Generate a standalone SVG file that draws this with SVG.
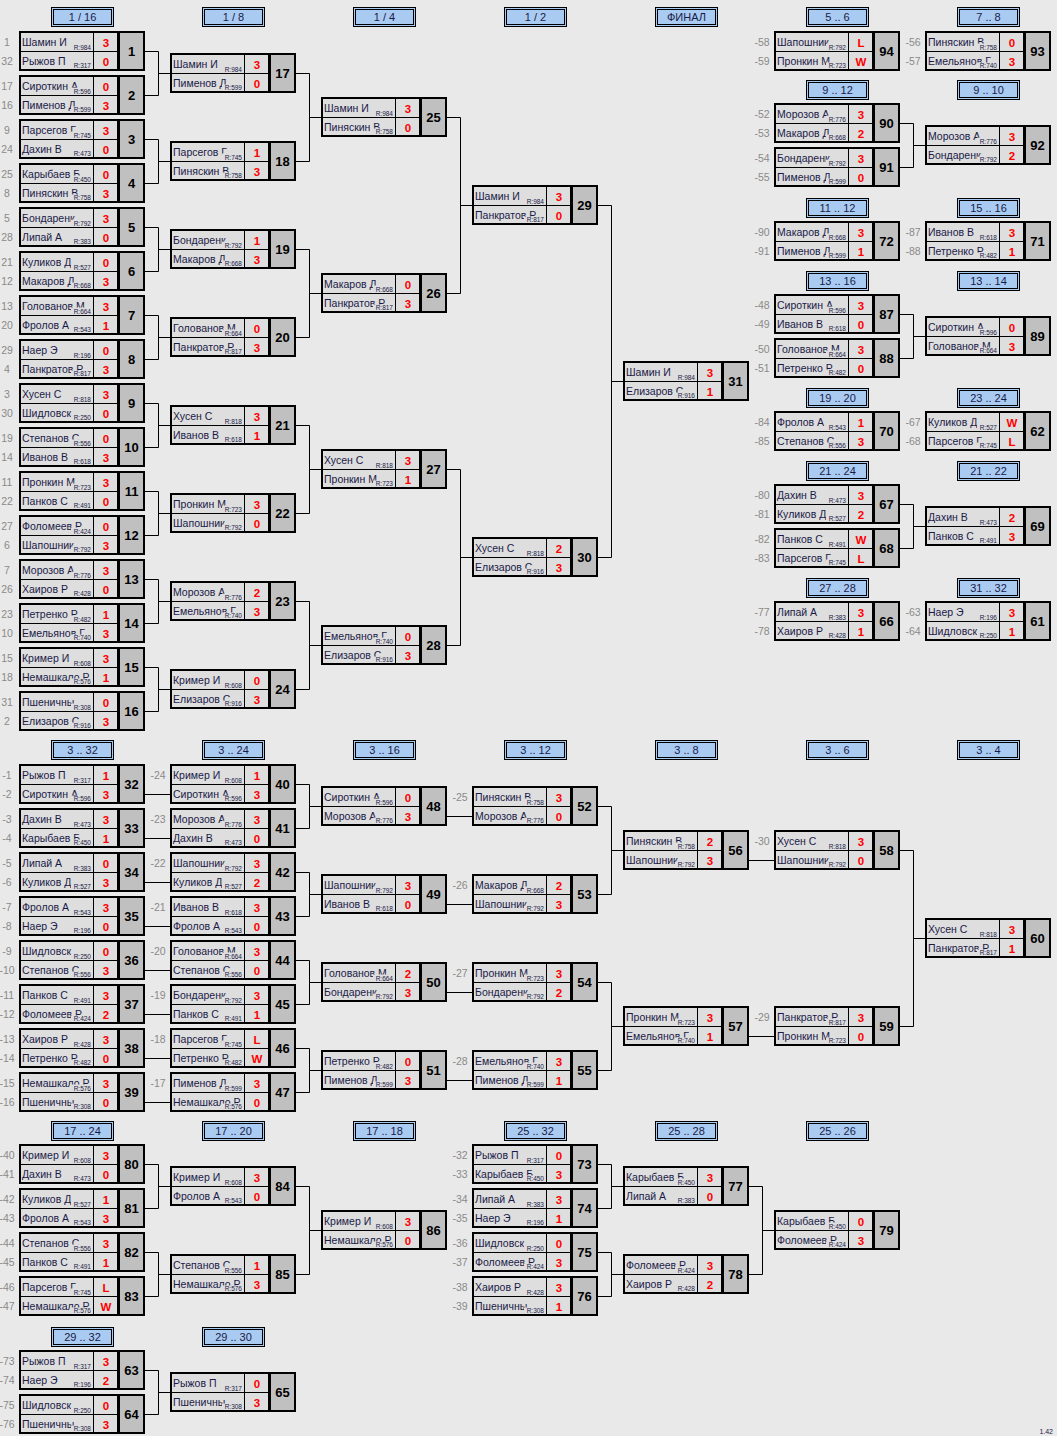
<svg xmlns="http://www.w3.org/2000/svg" width="1057" height="1436" viewBox="0 0 1057 1436">
<style>
text{font-family:"Liberation Sans",Arial,sans-serif}
.n text{font-size:10.5px;fill:#1a1a48}
.r{font-size:6.5px;fill:#1a1a48;text-anchor:end}
.s{font-size:11.5px;font-weight:bold;fill:#f00;text-anchor:middle}
.k{font-size:13px;font-weight:bold;fill:#000;text-anchor:middle}
.d{font-size:10.5px;fill:#8a8a8a;text-anchor:middle}
.ht{font-size:11px;fill:#1a1a48;text-anchor:middle}
.c{fill:none;stroke:#000;stroke-width:1}
.cl{fill:#dedede}
</style>
<defs>
<g id="bx"><rect x="0" y="0" width="126" height="40" fill="#000"/><rect class="cl" x="2" y="2" width="72" height="18"/><rect class="cl" x="2" y="21" width="72" height="17"/><rect class="cl" x="75" y="2" width="23" height="18"/><rect class="cl" x="75" y="21" width="23" height="17"/><rect x="101" y="2" width="23" height="36" fill="#c0c0c0"/></g>
<g id="rb"><rect class="cl" x="52" y="12.5" width="22" height="7.5"/><rect class="cl" x="52" y="31.5" width="22" height="6.5"/></g>
<g id="hb"><rect x="0.5" y="0.5" width="62" height="19" fill="#a9cbf2" stroke="#000"/><rect x="2.5" y="2.5" width="58" height="15" fill="none" stroke="#000"/></g>
<clipPath id="nc"><rect x="2" y="2" width="72" height="36"/></clipPath>
</defs>
<rect width="1057" height="1436" fill="#e9e9e9"/>

<g id="headers">
<g transform="translate(51,7)"><use href="#hb"/><text class="ht" x="31.5" y="14">1 / 16</text></g>
<g transform="translate(202,7)"><use href="#hb"/><text class="ht" x="31.5" y="14">1 / 8</text></g>
<g transform="translate(353,7)"><use href="#hb"/><text class="ht" x="31.5" y="14">1 / 4</text></g>
<g transform="translate(504,7)"><use href="#hb"/><text class="ht" x="31.5" y="14">1 / 2</text></g>
<g transform="translate(655,7)"><use href="#hb"/><text class="ht" x="31.5" y="14">ФИНАЛ</text></g>
<g transform="translate(806,7)"><use href="#hb"/><text class="ht" x="31.5" y="14">5 .. 6</text></g>
<g transform="translate(957,7)"><use href="#hb"/><text class="ht" x="31.5" y="14">7 .. 8</text></g>
<g transform="translate(806,80)"><use href="#hb"/><text class="ht" x="31.5" y="14">9 .. 12</text></g>
<g transform="translate(957,80)"><use href="#hb"/><text class="ht" x="31.5" y="14">9 .. 10</text></g>
<g transform="translate(806,198)"><use href="#hb"/><text class="ht" x="31.5" y="14">11 .. 12</text></g>
<g transform="translate(957,198)"><use href="#hb"/><text class="ht" x="31.5" y="14">15 .. 16</text></g>
<g transform="translate(806,271)"><use href="#hb"/><text class="ht" x="31.5" y="14">13 .. 16</text></g>
<g transform="translate(957,271)"><use href="#hb"/><text class="ht" x="31.5" y="14">13 .. 14</text></g>
<g transform="translate(806,388)"><use href="#hb"/><text class="ht" x="31.5" y="14">19 .. 20</text></g>
<g transform="translate(957,388)"><use href="#hb"/><text class="ht" x="31.5" y="14">23 .. 24</text></g>
<g transform="translate(806,461)"><use href="#hb"/><text class="ht" x="31.5" y="14">21 .. 24</text></g>
<g transform="translate(957,461)"><use href="#hb"/><text class="ht" x="31.5" y="14">21 .. 22</text></g>
<g transform="translate(806,578)"><use href="#hb"/><text class="ht" x="31.5" y="14">27 .. 28</text></g>
<g transform="translate(957,578)"><use href="#hb"/><text class="ht" x="31.5" y="14">31 .. 32</text></g>
<g transform="translate(51,740)"><use href="#hb"/><text class="ht" x="31.5" y="14">3 .. 32</text></g>
<g transform="translate(202,740)"><use href="#hb"/><text class="ht" x="31.5" y="14">3 .. 24</text></g>
<g transform="translate(353,740)"><use href="#hb"/><text class="ht" x="31.5" y="14">3 .. 16</text></g>
<g transform="translate(504,740)"><use href="#hb"/><text class="ht" x="31.5" y="14">3 .. 12</text></g>
<g transform="translate(655,740)"><use href="#hb"/><text class="ht" x="31.5" y="14">3 .. 8</text></g>
<g transform="translate(806,740)"><use href="#hb"/><text class="ht" x="31.5" y="14">3 .. 6</text></g>
<g transform="translate(957,740)"><use href="#hb"/><text class="ht" x="31.5" y="14">3 .. 4</text></g>
<g transform="translate(51,1121)"><use href="#hb"/><text class="ht" x="31.5" y="14">17 .. 24</text></g>
<g transform="translate(202,1121)"><use href="#hb"/><text class="ht" x="31.5" y="14">17 .. 20</text></g>
<g transform="translate(353,1121)"><use href="#hb"/><text class="ht" x="31.5" y="14">17 .. 18</text></g>
<g transform="translate(504,1121)"><use href="#hb"/><text class="ht" x="31.5" y="14">25 .. 32</text></g>
<g transform="translate(655,1121)"><use href="#hb"/><text class="ht" x="31.5" y="14">25 .. 28</text></g>
<g transform="translate(806,1121)"><use href="#hb"/><text class="ht" x="31.5" y="14">25 .. 26</text></g>
<g transform="translate(51,1327)"><use href="#hb"/><text class="ht" x="31.5" y="14">29 .. 32</text></g>
<g transform="translate(202,1327)"><use href="#hb"/><text class="ht" x="31.5" y="14">29 .. 30</text></g>
</g>

<g id="connectors" class="c">
<path d="M145 51.5H158.5V95.5H145M158.5 73.5H170M145 139.5H158.5V183.5H145M158.5 161.5H170M145 227.5H158.5V271.5H145M158.5 249.5H170M145 315.5H158.5V359.5H145M158.5 337.5H170M145 403.5H158.5V447.5H145M158.5 425.5H170M145 491.5H158.5V535.5H145M158.5 513.5H170M145 579.5H158.5V623.5H145M158.5 601.5H170M145 667.5H158.5V711.5H145M158.5 689.5H170"/>
<path d="M296 73.5H309.5V161.5H296M309.5 117.5H321M296 249.5H309.5V337.5H296M309.5 293.5H321M296 425.5H309.5V513.5H296M309.5 469.5H321M296 601.5H309.5V689.5H296M309.5 645.5H321"/>
<path d="M447 117.5H460.5V293.5H447M460.5 205.5H472M447 469.5H460.5V645.5H447M460.5 557.5H472M598 205.5H611.5V557.5H598M611.5 381.5H623"/>
<path d="M900 123.5H913.5V167.5H900M913.5 145.5H925M900 314.5H913.5V358.5H900M913.5 336.5H925M900 504.5H913.5V548.5H900M913.5 526.5H925"/>
<path d="M145 794.5H170M145 838.5H170M145 882.5H170M145 926.5H170M145 970.5H170M145 1014.5H170M145 1058.5H170M145 1102.5H170"/>
<path d="M296 784.5H309.5V828.5H296M309.5 806.5H321M296 872.5H309.5V916.5H296M309.5 894.5H321M296 960.5H309.5V1004.5H296M309.5 982.5H321M296 1048.5H309.5V1092.5H296M309.5 1070.5H321"/>
<path d="M447 816.5H472M447 904.5H472M447 992.5H472M447 1080.5H472"/>
<path d="M598 806.5H611.5V894.5H598M611.5 850.5H623M598 982.5H611.5V1070.5H598M611.5 1026.5H623M749 860.5H774M749 1036.5H774M900 850.5H913.5V1026.5H900M913.5 938.5H925"/>
<path d="M145 1164.5H158.5V1208.5H145M158.5 1186.5H170M145 1252.5H158.5V1296.5H145M158.5 1274.5H170M296 1186.5H309.5V1274.5H296M309.5 1230.5H321"/>
<path d="M598 1164.5H611.5V1208.5H598M611.5 1186.5H623M598 1252.5H611.5V1296.5H598M611.5 1274.5H623M749 1186.5H762.5V1274.5H749M762.5 1230.5H774"/>
<path d="M145 1370.5H158.5V1414.5H145M158.5 1392.5H170"/>
</g>

<g id="m1" transform="translate(19,31)"><use href="#bx"/><g class="n" clip-path="url(#nc)"><text x="3" y="15">Шамин И</text><text x="3" y="34">Рыжов П</text></g><use href="#rb"/><text class="r" x="72" y="18.5">R:984</text><text class="r" x="72" y="37">R:317</text><text class="s" x="87" y="15.5">3</text><text class="s" x="87" y="34.5">0</text><text class="k" x="112.5" y="25">1</text><text class="d" x="-12" y="15">1</text><text class="d" x="-12" y="34">32</text></g>
<g id="m2" transform="translate(19,75)"><use href="#bx"/><g class="n" clip-path="url(#nc)"><text x="3" y="15">Сироткин А</text><text x="3" y="34">Пименов Д</text></g><use href="#rb"/><text class="r" x="72" y="18.5">R:596</text><text class="r" x="72" y="37">R:599</text><text class="s" x="87" y="15.5">0</text><text class="s" x="87" y="34.5">3</text><text class="k" x="112.5" y="25">2</text><text class="d" x="-12" y="15">17</text><text class="d" x="-12" y="34">16</text></g>
<g id="m3" transform="translate(19,119)"><use href="#bx"/><g class="n" clip-path="url(#nc)"><text x="3" y="15">Парсегов Г</text><text x="3" y="34">Дахин В</text></g><use href="#rb"/><text class="r" x="72" y="18.5">R:745</text><text class="r" x="72" y="37">R:473</text><text class="s" x="87" y="15.5">3</text><text class="s" x="87" y="34.5">0</text><text class="k" x="112.5" y="25">3</text><text class="d" x="-12" y="15">9</text><text class="d" x="-12" y="34">24</text></g>
<g id="m4" transform="translate(19,163)"><use href="#bx"/><g class="n" clip-path="url(#nc)"><text x="3" y="15">Карыбаев Б</text><text x="3" y="34">Пиняскин В</text></g><use href="#rb"/><text class="r" x="72" y="18.5">R:450</text><text class="r" x="72" y="37">R:758</text><text class="s" x="87" y="15.5">0</text><text class="s" x="87" y="34.5">3</text><text class="k" x="112.5" y="25">4</text><text class="d" x="-12" y="15">25</text><text class="d" x="-12" y="34">8</text></g>
<g id="m5" transform="translate(19,207)"><use href="#bx"/><g class="n" clip-path="url(#nc)"><text x="3" y="15">Бондаренк</text><text x="3" y="34">Липай А</text></g><use href="#rb"/><text class="r" x="72" y="18.5">R:792</text><text class="r" x="72" y="37">R:383</text><text class="s" x="87" y="15.5">3</text><text class="s" x="87" y="34.5">0</text><text class="k" x="112.5" y="25">5</text><text class="d" x="-12" y="15">5</text><text class="d" x="-12" y="34">28</text></g>
<g id="m6" transform="translate(19,251)"><use href="#bx"/><g class="n" clip-path="url(#nc)"><text x="3" y="15">Куликов Д</text><text x="3" y="34">Макаров Д</text></g><use href="#rb"/><text class="r" x="72" y="18.5">R:527</text><text class="r" x="72" y="37">R:668</text><text class="s" x="87" y="15.5">0</text><text class="s" x="87" y="34.5">3</text><text class="k" x="112.5" y="25">6</text><text class="d" x="-12" y="15">21</text><text class="d" x="-12" y="34">12</text></g>
<g id="m7" transform="translate(19,295)"><use href="#bx"/><g class="n" clip-path="url(#nc)"><text x="3" y="15">Голованов М</text><text x="3" y="34">Фролов А</text></g><use href="#rb"/><text class="r" x="72" y="18.5">R:664</text><text class="r" x="72" y="37">R:543</text><text class="s" x="87" y="15.5">3</text><text class="s" x="87" y="34.5">1</text><text class="k" x="112.5" y="25">7</text><text class="d" x="-12" y="15">13</text><text class="d" x="-12" y="34">20</text></g>
<g id="m8" transform="translate(19,339)"><use href="#bx"/><g class="n" clip-path="url(#nc)"><text x="3" y="15">Наер Э</text><text x="3" y="34">Панкратов Р</text></g><use href="#rb"/><text class="r" x="72" y="18.5">R:196</text><text class="r" x="72" y="37">R:817</text><text class="s" x="87" y="15.5">0</text><text class="s" x="87" y="34.5">3</text><text class="k" x="112.5" y="25">8</text><text class="d" x="-12" y="15">29</text><text class="d" x="-12" y="34">4</text></g>
<g id="m9" transform="translate(19,383)"><use href="#bx"/><g class="n" clip-path="url(#nc)"><text x="3" y="15">Хусен С</text><text x="3" y="34">Шидловск</text></g><use href="#rb"/><text class="r" x="72" y="18.5">R:818</text><text class="r" x="72" y="37">R:250</text><text class="s" x="87" y="15.5">3</text><text class="s" x="87" y="34.5">0</text><text class="k" x="112.5" y="25">9</text><text class="d" x="-12" y="15">3</text><text class="d" x="-12" y="34">30</text></g>
<g id="m10" transform="translate(19,427)"><use href="#bx"/><g class="n" clip-path="url(#nc)"><text x="3" y="15">Степанов С</text><text x="3" y="34">Иванов В</text></g><use href="#rb"/><text class="r" x="72" y="18.5">R:556</text><text class="r" x="72" y="37">R:618</text><text class="s" x="87" y="15.5">0</text><text class="s" x="87" y="34.5">3</text><text class="k" x="112.5" y="25">10</text><text class="d" x="-12" y="15">19</text><text class="d" x="-12" y="34">14</text></g>
<g id="m11" transform="translate(19,471)"><use href="#bx"/><g class="n" clip-path="url(#nc)"><text x="3" y="15">Пронкин М</text><text x="3" y="34">Панков С</text></g><use href="#rb"/><text class="r" x="72" y="18.5">R:723</text><text class="r" x="72" y="37">R:491</text><text class="s" x="87" y="15.5">3</text><text class="s" x="87" y="34.5">0</text><text class="k" x="112.5" y="25">11</text><text class="d" x="-12" y="15">11</text><text class="d" x="-12" y="34">22</text></g>
<g id="m12" transform="translate(19,515)"><use href="#bx"/><g class="n" clip-path="url(#nc)"><text x="3" y="15">Фоломеев Р</text><text x="3" y="34">Шапошник</text></g><use href="#rb"/><text class="r" x="72" y="18.5">R:424</text><text class="r" x="72" y="37">R:792</text><text class="s" x="87" y="15.5">0</text><text class="s" x="87" y="34.5">3</text><text class="k" x="112.5" y="25">12</text><text class="d" x="-12" y="15">27</text><text class="d" x="-12" y="34">6</text></g>
<g id="m13" transform="translate(19,559)"><use href="#bx"/><g class="n" clip-path="url(#nc)"><text x="3" y="15">Морозов А</text><text x="3" y="34">Хаиров Р</text></g><use href="#rb"/><text class="r" x="72" y="18.5">R:776</text><text class="r" x="72" y="37">R:428</text><text class="s" x="87" y="15.5">3</text><text class="s" x="87" y="34.5">0</text><text class="k" x="112.5" y="25">13</text><text class="d" x="-12" y="15">7</text><text class="d" x="-12" y="34">26</text></g>
<g id="m14" transform="translate(19,603)"><use href="#bx"/><g class="n" clip-path="url(#nc)"><text x="3" y="15">Петренко Р</text><text x="3" y="34">Емельянов Г</text></g><use href="#rb"/><text class="r" x="72" y="18.5">R:482</text><text class="r" x="72" y="37">R:740</text><text class="s" x="87" y="15.5">1</text><text class="s" x="87" y="34.5">3</text><text class="k" x="112.5" y="25">14</text><text class="d" x="-12" y="15">23</text><text class="d" x="-12" y="34">10</text></g>
<g id="m15" transform="translate(19,647)"><use href="#bx"/><g class="n" clip-path="url(#nc)"><text x="3" y="15">Кример И</text><text x="3" y="34">Немашкало Р</text></g><use href="#rb"/><text class="r" x="72" y="18.5">R:608</text><text class="r" x="72" y="37">R:576</text><text class="s" x="87" y="15.5">3</text><text class="s" x="87" y="34.5">1</text><text class="k" x="112.5" y="25">15</text><text class="d" x="-12" y="15">15</text><text class="d" x="-12" y="34">18</text></g>
<g id="m16" transform="translate(19,691)"><use href="#bx"/><g class="n" clip-path="url(#nc)"><text x="3" y="15">Пшеничны</text><text x="3" y="34">Елизаров С</text></g><use href="#rb"/><text class="r" x="72" y="18.5">R:308</text><text class="r" x="72" y="37">R:916</text><text class="s" x="87" y="15.5">0</text><text class="s" x="87" y="34.5">3</text><text class="k" x="112.5" y="25">16</text><text class="d" x="-12" y="15">31</text><text class="d" x="-12" y="34">2</text></g>

<g id="m17" transform="translate(170,53)"><use href="#bx"/><g class="n" clip-path="url(#nc)"><text x="3" y="15">Шамин И</text><text x="3" y="34">Пименов Д</text></g><use href="#rb"/><text class="r" x="72" y="18.5">R:984</text><text class="r" x="72" y="37">R:599</text><text class="s" x="87" y="15.5">3</text><text class="s" x="87" y="34.5">0</text><text class="k" x="112.5" y="25">17</text></g>
<g id="m18" transform="translate(170,141)"><use href="#bx"/><g class="n" clip-path="url(#nc)"><text x="3" y="15">Парсегов Г</text><text x="3" y="34">Пиняскин В</text></g><use href="#rb"/><text class="r" x="72" y="18.5">R:745</text><text class="r" x="72" y="37">R:758</text><text class="s" x="87" y="15.5">1</text><text class="s" x="87" y="34.5">3</text><text class="k" x="112.5" y="25">18</text></g>
<g id="m19" transform="translate(170,229)"><use href="#bx"/><g class="n" clip-path="url(#nc)"><text x="3" y="15">Бондаренк</text><text x="3" y="34">Макаров Д</text></g><use href="#rb"/><text class="r" x="72" y="18.5">R:792</text><text class="r" x="72" y="37">R:668</text><text class="s" x="87" y="15.5">1</text><text class="s" x="87" y="34.5">3</text><text class="k" x="112.5" y="25">19</text></g>
<g id="m20" transform="translate(170,317)"><use href="#bx"/><g class="n" clip-path="url(#nc)"><text x="3" y="15">Голованов М</text><text x="3" y="34">Панкратов Р</text></g><use href="#rb"/><text class="r" x="72" y="18.5">R:664</text><text class="r" x="72" y="37">R:817</text><text class="s" x="87" y="15.5">0</text><text class="s" x="87" y="34.5">3</text><text class="k" x="112.5" y="25">20</text></g>
<g id="m21" transform="translate(170,405)"><use href="#bx"/><g class="n" clip-path="url(#nc)"><text x="3" y="15">Хусен С</text><text x="3" y="34">Иванов В</text></g><use href="#rb"/><text class="r" x="72" y="18.5">R:818</text><text class="r" x="72" y="37">R:618</text><text class="s" x="87" y="15.5">3</text><text class="s" x="87" y="34.5">1</text><text class="k" x="112.5" y="25">21</text></g>
<g id="m22" transform="translate(170,493)"><use href="#bx"/><g class="n" clip-path="url(#nc)"><text x="3" y="15">Пронкин М</text><text x="3" y="34">Шапошник</text></g><use href="#rb"/><text class="r" x="72" y="18.5">R:723</text><text class="r" x="72" y="37">R:792</text><text class="s" x="87" y="15.5">3</text><text class="s" x="87" y="34.5">0</text><text class="k" x="112.5" y="25">22</text></g>
<g id="m23" transform="translate(170,581)"><use href="#bx"/><g class="n" clip-path="url(#nc)"><text x="3" y="15">Морозов А</text><text x="3" y="34">Емельянов Г</text></g><use href="#rb"/><text class="r" x="72" y="18.5">R:776</text><text class="r" x="72" y="37">R:740</text><text class="s" x="87" y="15.5">2</text><text class="s" x="87" y="34.5">3</text><text class="k" x="112.5" y="25">23</text></g>
<g id="m24" transform="translate(170,669)"><use href="#bx"/><g class="n" clip-path="url(#nc)"><text x="3" y="15">Кример И</text><text x="3" y="34">Елизаров С</text></g><use href="#rb"/><text class="r" x="72" y="18.5">R:608</text><text class="r" x="72" y="37">R:916</text><text class="s" x="87" y="15.5">0</text><text class="s" x="87" y="34.5">3</text><text class="k" x="112.5" y="25">24</text></g>

<g id="m25" transform="translate(321,97)"><use href="#bx"/><g class="n" clip-path="url(#nc)"><text x="3" y="15">Шамин И</text><text x="3" y="34">Пиняскин В</text></g><use href="#rb"/><text class="r" x="72" y="18.5">R:984</text><text class="r" x="72" y="37">R:758</text><text class="s" x="87" y="15.5">3</text><text class="s" x="87" y="34.5">0</text><text class="k" x="112.5" y="25">25</text></g>
<g id="m26" transform="translate(321,273)"><use href="#bx"/><g class="n" clip-path="url(#nc)"><text x="3" y="15">Макаров Д</text><text x="3" y="34">Панкратов Р</text></g><use href="#rb"/><text class="r" x="72" y="18.5">R:668</text><text class="r" x="72" y="37">R:817</text><text class="s" x="87" y="15.5">0</text><text class="s" x="87" y="34.5">3</text><text class="k" x="112.5" y="25">26</text></g>
<g id="m27" transform="translate(321,449)"><use href="#bx"/><g class="n" clip-path="url(#nc)"><text x="3" y="15">Хусен С</text><text x="3" y="34">Пронкин М</text></g><use href="#rb"/><text class="r" x="72" y="18.5">R:818</text><text class="r" x="72" y="37">R:723</text><text class="s" x="87" y="15.5">3</text><text class="s" x="87" y="34.5">1</text><text class="k" x="112.5" y="25">27</text></g>
<g id="m28" transform="translate(321,625)"><use href="#bx"/><g class="n" clip-path="url(#nc)"><text x="3" y="15">Емельянов Г</text><text x="3" y="34">Елизаров С</text></g><use href="#rb"/><text class="r" x="72" y="18.5">R:740</text><text class="r" x="72" y="37">R:916</text><text class="s" x="87" y="15.5">0</text><text class="s" x="87" y="34.5">3</text><text class="k" x="112.5" y="25">28</text></g>
<g id="m29" transform="translate(472,185)"><use href="#bx"/><g class="n" clip-path="url(#nc)"><text x="3" y="15">Шамин И</text><text x="3" y="34">Панкратов Р</text></g><use href="#rb"/><text class="r" x="72" y="18.5">R:984</text><text class="r" x="72" y="37">R:817</text><text class="s" x="87" y="15.5">3</text><text class="s" x="87" y="34.5">0</text><text class="k" x="112.5" y="25">29</text></g>
<g id="m30" transform="translate(472,537)"><use href="#bx"/><g class="n" clip-path="url(#nc)"><text x="3" y="15">Хусен С</text><text x="3" y="34">Елизаров С</text></g><use href="#rb"/><text class="r" x="72" y="18.5">R:818</text><text class="r" x="72" y="37">R:916</text><text class="s" x="87" y="15.5">2</text><text class="s" x="87" y="34.5">3</text><text class="k" x="112.5" y="25">30</text></g>
<g id="m31" transform="translate(623,361)"><use href="#bx"/><g class="n" clip-path="url(#nc)"><text x="3" y="15">Шамин И</text><text x="3" y="34">Елизаров С</text></g><use href="#rb"/><text class="r" x="72" y="18.5">R:984</text><text class="r" x="72" y="37">R:916</text><text class="s" x="87" y="15.5">3</text><text class="s" x="87" y="34.5">1</text><text class="k" x="112.5" y="25">31</text></g>

<g id="m94" transform="translate(774,31)"><use href="#bx"/><g class="n" clip-path="url(#nc)"><text x="3" y="15">Шапошник</text><text x="3" y="34">Пронкин М</text></g><use href="#rb"/><text class="r" x="72" y="18.5">R:792</text><text class="r" x="72" y="37">R:723</text><text class="s" x="87" y="15.5">L</text><text class="s" x="87" y="34.5">W</text><text class="k" x="112.5" y="25">94</text><text class="d" x="-12" y="15">-58</text><text class="d" x="-12" y="34">-59</text></g>
<g id="m90" transform="translate(774,103)"><use href="#bx"/><g class="n" clip-path="url(#nc)"><text x="3" y="15">Морозов А</text><text x="3" y="34">Макаров Д</text></g><use href="#rb"/><text class="r" x="72" y="18.5">R:776</text><text class="r" x="72" y="37">R:668</text><text class="s" x="87" y="15.5">3</text><text class="s" x="87" y="34.5">2</text><text class="k" x="112.5" y="25">90</text><text class="d" x="-12" y="15">-52</text><text class="d" x="-12" y="34">-53</text></g>
<g id="m91" transform="translate(774,147)"><use href="#bx"/><g class="n" clip-path="url(#nc)"><text x="3" y="15">Бондаренк</text><text x="3" y="34">Пименов Д</text></g><use href="#rb"/><text class="r" x="72" y="18.5">R:792</text><text class="r" x="72" y="37">R:599</text><text class="s" x="87" y="15.5">3</text><text class="s" x="87" y="34.5">0</text><text class="k" x="112.5" y="25">91</text><text class="d" x="-12" y="15">-54</text><text class="d" x="-12" y="34">-55</text></g>
<g id="m72" transform="translate(774,221)"><use href="#bx"/><g class="n" clip-path="url(#nc)"><text x="3" y="15">Макаров Д</text><text x="3" y="34">Пименов Д</text></g><use href="#rb"/><text class="r" x="72" y="18.5">R:668</text><text class="r" x="72" y="37">R:599</text><text class="s" x="87" y="15.5">3</text><text class="s" x="87" y="34.5">1</text><text class="k" x="112.5" y="25">72</text><text class="d" x="-12" y="15">-90</text><text class="d" x="-12" y="34">-91</text></g>
<g id="m87" transform="translate(774,294)"><use href="#bx"/><g class="n" clip-path="url(#nc)"><text x="3" y="15">Сироткин А</text><text x="3" y="34">Иванов В</text></g><use href="#rb"/><text class="r" x="72" y="18.5">R:596</text><text class="r" x="72" y="37">R:618</text><text class="s" x="87" y="15.5">3</text><text class="s" x="87" y="34.5">0</text><text class="k" x="112.5" y="25">87</text><text class="d" x="-12" y="15">-48</text><text class="d" x="-12" y="34">-49</text></g>
<g id="m88" transform="translate(774,338)"><use href="#bx"/><g class="n" clip-path="url(#nc)"><text x="3" y="15">Голованов М</text><text x="3" y="34">Петренко Р</text></g><use href="#rb"/><text class="r" x="72" y="18.5">R:664</text><text class="r" x="72" y="37">R:482</text><text class="s" x="87" y="15.5">3</text><text class="s" x="87" y="34.5">0</text><text class="k" x="112.5" y="25">88</text><text class="d" x="-12" y="15">-50</text><text class="d" x="-12" y="34">-51</text></g>
<g id="m70" transform="translate(774,411)"><use href="#bx"/><g class="n" clip-path="url(#nc)"><text x="3" y="15">Фролов А</text><text x="3" y="34">Степанов С</text></g><use href="#rb"/><text class="r" x="72" y="18.5">R:543</text><text class="r" x="72" y="37">R:556</text><text class="s" x="87" y="15.5">1</text><text class="s" x="87" y="34.5">3</text><text class="k" x="112.5" y="25">70</text><text class="d" x="-12" y="15">-84</text><text class="d" x="-12" y="34">-85</text></g>
<g id="m67" transform="translate(774,484)"><use href="#bx"/><g class="n" clip-path="url(#nc)"><text x="3" y="15">Дахин В</text><text x="3" y="34">Куликов Д</text></g><use href="#rb"/><text class="r" x="72" y="18.5">R:473</text><text class="r" x="72" y="37">R:527</text><text class="s" x="87" y="15.5">3</text><text class="s" x="87" y="34.5">2</text><text class="k" x="112.5" y="25">67</text><text class="d" x="-12" y="15">-80</text><text class="d" x="-12" y="34">-81</text></g>
<g id="m68" transform="translate(774,528)"><use href="#bx"/><g class="n" clip-path="url(#nc)"><text x="3" y="15">Панков С</text><text x="3" y="34">Парсегов Г</text></g><use href="#rb"/><text class="r" x="72" y="18.5">R:491</text><text class="r" x="72" y="37">R:745</text><text class="s" x="87" y="15.5">W</text><text class="s" x="87" y="34.5">L</text><text class="k" x="112.5" y="25">68</text><text class="d" x="-12" y="15">-82</text><text class="d" x="-12" y="34">-83</text></g>
<g id="m66" transform="translate(774,601)"><use href="#bx"/><g class="n" clip-path="url(#nc)"><text x="3" y="15">Липай А</text><text x="3" y="34">Хаиров Р</text></g><use href="#rb"/><text class="r" x="72" y="18.5">R:383</text><text class="r" x="72" y="37">R:428</text><text class="s" x="87" y="15.5">3</text><text class="s" x="87" y="34.5">1</text><text class="k" x="112.5" y="25">66</text><text class="d" x="-12" y="15">-77</text><text class="d" x="-12" y="34">-78</text></g>

<g id="m93" transform="translate(925,31)"><use href="#bx"/><g class="n" clip-path="url(#nc)"><text x="3" y="15">Пиняскин В</text><text x="3" y="34">Емельянов Г</text></g><use href="#rb"/><text class="r" x="72" y="18.5">R:758</text><text class="r" x="72" y="37">R:740</text><text class="s" x="87" y="15.5">0</text><text class="s" x="87" y="34.5">3</text><text class="k" x="112.5" y="25">93</text><text class="d" x="-12" y="15">-56</text><text class="d" x="-12" y="34">-57</text></g>
<g id="m92" transform="translate(925,125)"><use href="#bx"/><g class="n" clip-path="url(#nc)"><text x="3" y="15">Морозов А</text><text x="3" y="34">Бондаренк</text></g><use href="#rb"/><text class="r" x="72" y="18.5">R:776</text><text class="r" x="72" y="37">R:792</text><text class="s" x="87" y="15.5">3</text><text class="s" x="87" y="34.5">2</text><text class="k" x="112.5" y="25">92</text></g>
<g id="m71" transform="translate(925,221)"><use href="#bx"/><g class="n" clip-path="url(#nc)"><text x="3" y="15">Иванов В</text><text x="3" y="34">Петренко Р</text></g><use href="#rb"/><text class="r" x="72" y="18.5">R:618</text><text class="r" x="72" y="37">R:482</text><text class="s" x="87" y="15.5">3</text><text class="s" x="87" y="34.5">1</text><text class="k" x="112.5" y="25">71</text><text class="d" x="-12" y="15">-87</text><text class="d" x="-12" y="34">-88</text></g>
<g id="m89" transform="translate(925,316)"><use href="#bx"/><g class="n" clip-path="url(#nc)"><text x="3" y="15">Сироткин А</text><text x="3" y="34">Голованов М</text></g><use href="#rb"/><text class="r" x="72" y="18.5">R:596</text><text class="r" x="72" y="37">R:664</text><text class="s" x="87" y="15.5">0</text><text class="s" x="87" y="34.5">3</text><text class="k" x="112.5" y="25">89</text></g>
<g id="m62" transform="translate(925,411)"><use href="#bx"/><g class="n" clip-path="url(#nc)"><text x="3" y="15">Куликов Д</text><text x="3" y="34">Парсегов Г</text></g><use href="#rb"/><text class="r" x="72" y="18.5">R:527</text><text class="r" x="72" y="37">R:745</text><text class="s" x="87" y="15.5">W</text><text class="s" x="87" y="34.5">L</text><text class="k" x="112.5" y="25">62</text><text class="d" x="-12" y="15">-67</text><text class="d" x="-12" y="34">-68</text></g>
<g id="m69" transform="translate(925,506)"><use href="#bx"/><g class="n" clip-path="url(#nc)"><text x="3" y="15">Дахин В</text><text x="3" y="34">Панков С</text></g><use href="#rb"/><text class="r" x="72" y="18.5">R:473</text><text class="r" x="72" y="37">R:491</text><text class="s" x="87" y="15.5">2</text><text class="s" x="87" y="34.5">3</text><text class="k" x="112.5" y="25">69</text></g>
<g id="m61" transform="translate(925,601)"><use href="#bx"/><g class="n" clip-path="url(#nc)"><text x="3" y="15">Наер Э</text><text x="3" y="34">Шидловск</text></g><use href="#rb"/><text class="r" x="72" y="18.5">R:196</text><text class="r" x="72" y="37">R:250</text><text class="s" x="87" y="15.5">3</text><text class="s" x="87" y="34.5">1</text><text class="k" x="112.5" y="25">61</text><text class="d" x="-12" y="15">-63</text><text class="d" x="-12" y="34">-64</text></g>

<g id="m32" transform="translate(19,764)"><use href="#bx"/><g class="n" clip-path="url(#nc)"><text x="3" y="15">Рыжов П</text><text x="3" y="34">Сироткин А</text></g><use href="#rb"/><text class="r" x="72" y="18.5">R:317</text><text class="r" x="72" y="37">R:596</text><text class="s" x="87" y="15.5">1</text><text class="s" x="87" y="34.5">3</text><text class="k" x="112.5" y="25">32</text><text class="d" x="-12" y="15">-1</text><text class="d" x="-12" y="34">-2</text></g>
<g id="m33" transform="translate(19,808)"><use href="#bx"/><g class="n" clip-path="url(#nc)"><text x="3" y="15">Дахин В</text><text x="3" y="34">Карыбаев Б</text></g><use href="#rb"/><text class="r" x="72" y="18.5">R:473</text><text class="r" x="72" y="37">R:450</text><text class="s" x="87" y="15.5">3</text><text class="s" x="87" y="34.5">1</text><text class="k" x="112.5" y="25">33</text><text class="d" x="-12" y="15">-3</text><text class="d" x="-12" y="34">-4</text></g>
<g id="m34" transform="translate(19,852)"><use href="#bx"/><g class="n" clip-path="url(#nc)"><text x="3" y="15">Липай А</text><text x="3" y="34">Куликов Д</text></g><use href="#rb"/><text class="r" x="72" y="18.5">R:383</text><text class="r" x="72" y="37">R:527</text><text class="s" x="87" y="15.5">0</text><text class="s" x="87" y="34.5">3</text><text class="k" x="112.5" y="25">34</text><text class="d" x="-12" y="15">-5</text><text class="d" x="-12" y="34">-6</text></g>
<g id="m35" transform="translate(19,896)"><use href="#bx"/><g class="n" clip-path="url(#nc)"><text x="3" y="15">Фролов А</text><text x="3" y="34">Наер Э</text></g><use href="#rb"/><text class="r" x="72" y="18.5">R:543</text><text class="r" x="72" y="37">R:196</text><text class="s" x="87" y="15.5">3</text><text class="s" x="87" y="34.5">0</text><text class="k" x="112.5" y="25">35</text><text class="d" x="-12" y="15">-7</text><text class="d" x="-12" y="34">-8</text></g>
<g id="m36" transform="translate(19,940)"><use href="#bx"/><g class="n" clip-path="url(#nc)"><text x="3" y="15">Шидловск</text><text x="3" y="34">Степанов С</text></g><use href="#rb"/><text class="r" x="72" y="18.5">R:250</text><text class="r" x="72" y="37">R:556</text><text class="s" x="87" y="15.5">0</text><text class="s" x="87" y="34.5">3</text><text class="k" x="112.5" y="25">36</text><text class="d" x="-12" y="15">-9</text><text class="d" x="-12" y="34">-10</text></g>
<g id="m37" transform="translate(19,984)"><use href="#bx"/><g class="n" clip-path="url(#nc)"><text x="3" y="15">Панков С</text><text x="3" y="34">Фоломеев Р</text></g><use href="#rb"/><text class="r" x="72" y="18.5">R:491</text><text class="r" x="72" y="37">R:424</text><text class="s" x="87" y="15.5">3</text><text class="s" x="87" y="34.5">2</text><text class="k" x="112.5" y="25">37</text><text class="d" x="-12" y="15">-11</text><text class="d" x="-12" y="34">-12</text></g>
<g id="m38" transform="translate(19,1028)"><use href="#bx"/><g class="n" clip-path="url(#nc)"><text x="3" y="15">Хаиров Р</text><text x="3" y="34">Петренко Р</text></g><use href="#rb"/><text class="r" x="72" y="18.5">R:428</text><text class="r" x="72" y="37">R:482</text><text class="s" x="87" y="15.5">3</text><text class="s" x="87" y="34.5">0</text><text class="k" x="112.5" y="25">38</text><text class="d" x="-12" y="15">-13</text><text class="d" x="-12" y="34">-14</text></g>
<g id="m39" transform="translate(19,1072)"><use href="#bx"/><g class="n" clip-path="url(#nc)"><text x="3" y="15">Немашкало Р</text><text x="3" y="34">Пшеничны</text></g><use href="#rb"/><text class="r" x="72" y="18.5">R:576</text><text class="r" x="72" y="37">R:308</text><text class="s" x="87" y="15.5">3</text><text class="s" x="87" y="34.5">0</text><text class="k" x="112.5" y="25">39</text><text class="d" x="-12" y="15">-15</text><text class="d" x="-12" y="34">-16</text></g>

<g id="m40" transform="translate(170,764)"><use href="#bx"/><g class="n" clip-path="url(#nc)"><text x="3" y="15">Кример И</text><text x="3" y="34">Сироткин А</text></g><use href="#rb"/><text class="r" x="72" y="18.5">R:608</text><text class="r" x="72" y="37">R:596</text><text class="s" x="87" y="15.5">1</text><text class="s" x="87" y="34.5">3</text><text class="k" x="112.5" y="25">40</text><text class="d" x="-12" y="15">-24</text></g>
<g id="m41" transform="translate(170,808)"><use href="#bx"/><g class="n" clip-path="url(#nc)"><text x="3" y="15">Морозов А</text><text x="3" y="34">Дахин В</text></g><use href="#rb"/><text class="r" x="72" y="18.5">R:776</text><text class="r" x="72" y="37">R:473</text><text class="s" x="87" y="15.5">3</text><text class="s" x="87" y="34.5">0</text><text class="k" x="112.5" y="25">41</text><text class="d" x="-12" y="15">-23</text></g>
<g id="m42" transform="translate(170,852)"><use href="#bx"/><g class="n" clip-path="url(#nc)"><text x="3" y="15">Шапошник</text><text x="3" y="34">Куликов Д</text></g><use href="#rb"/><text class="r" x="72" y="18.5">R:792</text><text class="r" x="72" y="37">R:527</text><text class="s" x="87" y="15.5">3</text><text class="s" x="87" y="34.5">2</text><text class="k" x="112.5" y="25">42</text><text class="d" x="-12" y="15">-22</text></g>
<g id="m43" transform="translate(170,896)"><use href="#bx"/><g class="n" clip-path="url(#nc)"><text x="3" y="15">Иванов В</text><text x="3" y="34">Фролов А</text></g><use href="#rb"/><text class="r" x="72" y="18.5">R:618</text><text class="r" x="72" y="37">R:543</text><text class="s" x="87" y="15.5">3</text><text class="s" x="87" y="34.5">0</text><text class="k" x="112.5" y="25">43</text><text class="d" x="-12" y="15">-21</text></g>
<g id="m44" transform="translate(170,940)"><use href="#bx"/><g class="n" clip-path="url(#nc)"><text x="3" y="15">Голованов М</text><text x="3" y="34">Степанов С</text></g><use href="#rb"/><text class="r" x="72" y="18.5">R:664</text><text class="r" x="72" y="37">R:556</text><text class="s" x="87" y="15.5">3</text><text class="s" x="87" y="34.5">0</text><text class="k" x="112.5" y="25">44</text><text class="d" x="-12" y="15">-20</text></g>
<g id="m45" transform="translate(170,984)"><use href="#bx"/><g class="n" clip-path="url(#nc)"><text x="3" y="15">Бондаренк</text><text x="3" y="34">Панков С</text></g><use href="#rb"/><text class="r" x="72" y="18.5">R:792</text><text class="r" x="72" y="37">R:491</text><text class="s" x="87" y="15.5">3</text><text class="s" x="87" y="34.5">1</text><text class="k" x="112.5" y="25">45</text><text class="d" x="-12" y="15">-19</text></g>
<g id="m46" transform="translate(170,1028)"><use href="#bx"/><g class="n" clip-path="url(#nc)"><text x="3" y="15">Парсегов Г</text><text x="3" y="34">Петренко Р</text></g><use href="#rb"/><text class="r" x="72" y="18.5">R:745</text><text class="r" x="72" y="37">R:482</text><text class="s" x="87" y="15.5">L</text><text class="s" x="87" y="34.5">W</text><text class="k" x="112.5" y="25">46</text><text class="d" x="-12" y="15">-18</text></g>
<g id="m47" transform="translate(170,1072)"><use href="#bx"/><g class="n" clip-path="url(#nc)"><text x="3" y="15">Пименов Д</text><text x="3" y="34">Немашкало Р</text></g><use href="#rb"/><text class="r" x="72" y="18.5">R:599</text><text class="r" x="72" y="37">R:576</text><text class="s" x="87" y="15.5">3</text><text class="s" x="87" y="34.5">0</text><text class="k" x="112.5" y="25">47</text><text class="d" x="-12" y="15">-17</text></g>

<g id="m48" transform="translate(321,786)"><use href="#bx"/><g class="n" clip-path="url(#nc)"><text x="3" y="15">Сироткин А</text><text x="3" y="34">Морозов А</text></g><use href="#rb"/><text class="r" x="72" y="18.5">R:596</text><text class="r" x="72" y="37">R:776</text><text class="s" x="87" y="15.5">0</text><text class="s" x="87" y="34.5">3</text><text class="k" x="112.5" y="25">48</text></g>
<g id="m49" transform="translate(321,874)"><use href="#bx"/><g class="n" clip-path="url(#nc)"><text x="3" y="15">Шапошник</text><text x="3" y="34">Иванов В</text></g><use href="#rb"/><text class="r" x="72" y="18.5">R:792</text><text class="r" x="72" y="37">R:618</text><text class="s" x="87" y="15.5">3</text><text class="s" x="87" y="34.5">0</text><text class="k" x="112.5" y="25">49</text></g>
<g id="m50" transform="translate(321,962)"><use href="#bx"/><g class="n" clip-path="url(#nc)"><text x="3" y="15">Голованов М</text><text x="3" y="34">Бондаренк</text></g><use href="#rb"/><text class="r" x="72" y="18.5">R:664</text><text class="r" x="72" y="37">R:792</text><text class="s" x="87" y="15.5">2</text><text class="s" x="87" y="34.5">3</text><text class="k" x="112.5" y="25">50</text></g>
<g id="m51" transform="translate(321,1050)"><use href="#bx"/><g class="n" clip-path="url(#nc)"><text x="3" y="15">Петренко Р</text><text x="3" y="34">Пименов Д</text></g><use href="#rb"/><text class="r" x="72" y="18.5">R:482</text><text class="r" x="72" y="37">R:599</text><text class="s" x="87" y="15.5">0</text><text class="s" x="87" y="34.5">3</text><text class="k" x="112.5" y="25">51</text></g>

<g id="m52" transform="translate(472,786)"><use href="#bx"/><g class="n" clip-path="url(#nc)"><text x="3" y="15">Пиняскин В</text><text x="3" y="34">Морозов А</text></g><use href="#rb"/><text class="r" x="72" y="18.5">R:758</text><text class="r" x="72" y="37">R:776</text><text class="s" x="87" y="15.5">3</text><text class="s" x="87" y="34.5">0</text><text class="k" x="112.5" y="25">52</text><text class="d" x="-12" y="15">-25</text></g>
<g id="m53" transform="translate(472,874)"><use href="#bx"/><g class="n" clip-path="url(#nc)"><text x="3" y="15">Макаров Д</text><text x="3" y="34">Шапошник</text></g><use href="#rb"/><text class="r" x="72" y="18.5">R:668</text><text class="r" x="72" y="37">R:792</text><text class="s" x="87" y="15.5">2</text><text class="s" x="87" y="34.5">3</text><text class="k" x="112.5" y="25">53</text><text class="d" x="-12" y="15">-26</text></g>
<g id="m54" transform="translate(472,962)"><use href="#bx"/><g class="n" clip-path="url(#nc)"><text x="3" y="15">Пронкин М</text><text x="3" y="34">Бондаренк</text></g><use href="#rb"/><text class="r" x="72" y="18.5">R:723</text><text class="r" x="72" y="37">R:792</text><text class="s" x="87" y="15.5">3</text><text class="s" x="87" y="34.5">2</text><text class="k" x="112.5" y="25">54</text><text class="d" x="-12" y="15">-27</text></g>
<g id="m55" transform="translate(472,1050)"><use href="#bx"/><g class="n" clip-path="url(#nc)"><text x="3" y="15">Емельянов Г</text><text x="3" y="34">Пименов Д</text></g><use href="#rb"/><text class="r" x="72" y="18.5">R:740</text><text class="r" x="72" y="37">R:599</text><text class="s" x="87" y="15.5">3</text><text class="s" x="87" y="34.5">1</text><text class="k" x="112.5" y="25">55</text><text class="d" x="-12" y="15">-28</text></g>

<g id="m56" transform="translate(623,830)"><use href="#bx"/><g class="n" clip-path="url(#nc)"><text x="3" y="15">Пиняскин В</text><text x="3" y="34">Шапошник</text></g><use href="#rb"/><text class="r" x="72" y="18.5">R:758</text><text class="r" x="72" y="37">R:792</text><text class="s" x="87" y="15.5">2</text><text class="s" x="87" y="34.5">3</text><text class="k" x="112.5" y="25">56</text></g>
<g id="m57" transform="translate(623,1006)"><use href="#bx"/><g class="n" clip-path="url(#nc)"><text x="3" y="15">Пронкин М</text><text x="3" y="34">Емельянов Г</text></g><use href="#rb"/><text class="r" x="72" y="18.5">R:723</text><text class="r" x="72" y="37">R:740</text><text class="s" x="87" y="15.5">3</text><text class="s" x="87" y="34.5">1</text><text class="k" x="112.5" y="25">57</text></g>
<g id="m58" transform="translate(774,830)"><use href="#bx"/><g class="n" clip-path="url(#nc)"><text x="3" y="15">Хусен С</text><text x="3" y="34">Шапошник</text></g><use href="#rb"/><text class="r" x="72" y="18.5">R:818</text><text class="r" x="72" y="37">R:792</text><text class="s" x="87" y="15.5">3</text><text class="s" x="87" y="34.5">0</text><text class="k" x="112.5" y="25">58</text><text class="d" x="-12" y="15">-30</text></g>
<g id="m59" transform="translate(774,1006)"><use href="#bx"/><g class="n" clip-path="url(#nc)"><text x="3" y="15">Панкратов Р</text><text x="3" y="34">Пронкин М</text></g><use href="#rb"/><text class="r" x="72" y="18.5">R:817</text><text class="r" x="72" y="37">R:723</text><text class="s" x="87" y="15.5">3</text><text class="s" x="87" y="34.5">0</text><text class="k" x="112.5" y="25">59</text><text class="d" x="-12" y="15">-29</text></g>
<g id="m60" transform="translate(925,918)"><use href="#bx"/><g class="n" clip-path="url(#nc)"><text x="3" y="15">Хусен С</text><text x="3" y="34">Панкратов Р</text></g><use href="#rb"/><text class="r" x="72" y="18.5">R:818</text><text class="r" x="72" y="37">R:817</text><text class="s" x="87" y="15.5">3</text><text class="s" x="87" y="34.5">1</text><text class="k" x="112.5" y="25">60</text></g>

<g id="m80" transform="translate(19,1144)"><use href="#bx"/><g class="n" clip-path="url(#nc)"><text x="3" y="15">Кример И</text><text x="3" y="34">Дахин В</text></g><use href="#rb"/><text class="r" x="72" y="18.5">R:608</text><text class="r" x="72" y="37">R:473</text><text class="s" x="87" y="15.5">3</text><text class="s" x="87" y="34.5">0</text><text class="k" x="112.5" y="25">80</text><text class="d" x="-12" y="15">-40</text><text class="d" x="-12" y="34">-41</text></g>
<g id="m81" transform="translate(19,1188)"><use href="#bx"/><g class="n" clip-path="url(#nc)"><text x="3" y="15">Куликов Д</text><text x="3" y="34">Фролов А</text></g><use href="#rb"/><text class="r" x="72" y="18.5">R:527</text><text class="r" x="72" y="37">R:543</text><text class="s" x="87" y="15.5">1</text><text class="s" x="87" y="34.5">3</text><text class="k" x="112.5" y="25">81</text><text class="d" x="-12" y="15">-42</text><text class="d" x="-12" y="34">-43</text></g>
<g id="m82" transform="translate(19,1232)"><use href="#bx"/><g class="n" clip-path="url(#nc)"><text x="3" y="15">Степанов С</text><text x="3" y="34">Панков С</text></g><use href="#rb"/><text class="r" x="72" y="18.5">R:556</text><text class="r" x="72" y="37">R:491</text><text class="s" x="87" y="15.5">3</text><text class="s" x="87" y="34.5">1</text><text class="k" x="112.5" y="25">82</text><text class="d" x="-12" y="15">-44</text><text class="d" x="-12" y="34">-45</text></g>
<g id="m83" transform="translate(19,1276)"><use href="#bx"/><g class="n" clip-path="url(#nc)"><text x="3" y="15">Парсегов Г</text><text x="3" y="34">Немашкало Р</text></g><use href="#rb"/><text class="r" x="72" y="18.5">R:745</text><text class="r" x="72" y="37">R:576</text><text class="s" x="87" y="15.5">L</text><text class="s" x="87" y="34.5">W</text><text class="k" x="112.5" y="25">83</text><text class="d" x="-12" y="15">-46</text><text class="d" x="-12" y="34">-47</text></g>
<g id="m84" transform="translate(170,1166)"><use href="#bx"/><g class="n" clip-path="url(#nc)"><text x="3" y="15">Кример И</text><text x="3" y="34">Фролов А</text></g><use href="#rb"/><text class="r" x="72" y="18.5">R:608</text><text class="r" x="72" y="37">R:543</text><text class="s" x="87" y="15.5">3</text><text class="s" x="87" y="34.5">0</text><text class="k" x="112.5" y="25">84</text></g>
<g id="m85" transform="translate(170,1254)"><use href="#bx"/><g class="n" clip-path="url(#nc)"><text x="3" y="15">Степанов С</text><text x="3" y="34">Немашкало Р</text></g><use href="#rb"/><text class="r" x="72" y="18.5">R:556</text><text class="r" x="72" y="37">R:576</text><text class="s" x="87" y="15.5">1</text><text class="s" x="87" y="34.5">3</text><text class="k" x="112.5" y="25">85</text></g>
<g id="m86" transform="translate(321,1210)"><use href="#bx"/><g class="n" clip-path="url(#nc)"><text x="3" y="15">Кример И</text><text x="3" y="34">Немашкало Р</text></g><use href="#rb"/><text class="r" x="72" y="18.5">R:608</text><text class="r" x="72" y="37">R:576</text><text class="s" x="87" y="15.5">3</text><text class="s" x="87" y="34.5">0</text><text class="k" x="112.5" y="25">86</text></g>

<g id="m73" transform="translate(472,1144)"><use href="#bx"/><g class="n" clip-path="url(#nc)"><text x="3" y="15">Рыжов П</text><text x="3" y="34">Карыбаев Б</text></g><use href="#rb"/><text class="r" x="72" y="18.5">R:317</text><text class="r" x="72" y="37">R:450</text><text class="s" x="87" y="15.5">0</text><text class="s" x="87" y="34.5">3</text><text class="k" x="112.5" y="25">73</text><text class="d" x="-12" y="15">-32</text><text class="d" x="-12" y="34">-33</text></g>
<g id="m74" transform="translate(472,1188)"><use href="#bx"/><g class="n" clip-path="url(#nc)"><text x="3" y="15">Липай А</text><text x="3" y="34">Наер Э</text></g><use href="#rb"/><text class="r" x="72" y="18.5">R:383</text><text class="r" x="72" y="37">R:196</text><text class="s" x="87" y="15.5">3</text><text class="s" x="87" y="34.5">1</text><text class="k" x="112.5" y="25">74</text><text class="d" x="-12" y="15">-34</text><text class="d" x="-12" y="34">-35</text></g>
<g id="m75" transform="translate(472,1232)"><use href="#bx"/><g class="n" clip-path="url(#nc)"><text x="3" y="15">Шидловск</text><text x="3" y="34">Фоломеев Р</text></g><use href="#rb"/><text class="r" x="72" y="18.5">R:250</text><text class="r" x="72" y="37">R:424</text><text class="s" x="87" y="15.5">0</text><text class="s" x="87" y="34.5">3</text><text class="k" x="112.5" y="25">75</text><text class="d" x="-12" y="15">-36</text><text class="d" x="-12" y="34">-37</text></g>
<g id="m76" transform="translate(472,1276)"><use href="#bx"/><g class="n" clip-path="url(#nc)"><text x="3" y="15">Хаиров Р</text><text x="3" y="34">Пшеничны</text></g><use href="#rb"/><text class="r" x="72" y="18.5">R:428</text><text class="r" x="72" y="37">R:308</text><text class="s" x="87" y="15.5">3</text><text class="s" x="87" y="34.5">1</text><text class="k" x="112.5" y="25">76</text><text class="d" x="-12" y="15">-38</text><text class="d" x="-12" y="34">-39</text></g>
<g id="m77" transform="translate(623,1166)"><use href="#bx"/><g class="n" clip-path="url(#nc)"><text x="3" y="15">Карыбаев Б</text><text x="3" y="34">Липай А</text></g><use href="#rb"/><text class="r" x="72" y="18.5">R:450</text><text class="r" x="72" y="37">R:383</text><text class="s" x="87" y="15.5">3</text><text class="s" x="87" y="34.5">0</text><text class="k" x="112.5" y="25">77</text></g>
<g id="m78" transform="translate(623,1254)"><use href="#bx"/><g class="n" clip-path="url(#nc)"><text x="3" y="15">Фоломеев Р</text><text x="3" y="34">Хаиров Р</text></g><use href="#rb"/><text class="r" x="72" y="18.5">R:424</text><text class="r" x="72" y="37">R:428</text><text class="s" x="87" y="15.5">3</text><text class="s" x="87" y="34.5">2</text><text class="k" x="112.5" y="25">78</text></g>
<g id="m79" transform="translate(774,1210)"><use href="#bx"/><g class="n" clip-path="url(#nc)"><text x="3" y="15">Карыбаев Б</text><text x="3" y="34">Фоломеев Р</text></g><use href="#rb"/><text class="r" x="72" y="18.5">R:450</text><text class="r" x="72" y="37">R:424</text><text class="s" x="87" y="15.5">0</text><text class="s" x="87" y="34.5">3</text><text class="k" x="112.5" y="25">79</text></g>

<g id="m63" transform="translate(19,1350)"><use href="#bx"/><g class="n" clip-path="url(#nc)"><text x="3" y="15">Рыжов П</text><text x="3" y="34">Наер Э</text></g><use href="#rb"/><text class="r" x="72" y="18.5">R:317</text><text class="r" x="72" y="37">R:196</text><text class="s" x="87" y="15.5">3</text><text class="s" x="87" y="34.5">2</text><text class="k" x="112.5" y="25">63</text><text class="d" x="-12" y="15">-73</text><text class="d" x="-12" y="34">-74</text></g>
<g id="m64" transform="translate(19,1394)"><use href="#bx"/><g class="n" clip-path="url(#nc)"><text x="3" y="15">Шидловск</text><text x="3" y="34">Пшеничны</text></g><use href="#rb"/><text class="r" x="72" y="18.5">R:250</text><text class="r" x="72" y="37">R:308</text><text class="s" x="87" y="15.5">0</text><text class="s" x="87" y="34.5">3</text><text class="k" x="112.5" y="25">64</text><text class="d" x="-12" y="15">-75</text><text class="d" x="-12" y="34">-76</text></g>
<g id="m65" transform="translate(170,1372)"><use href="#bx"/><g class="n" clip-path="url(#nc)"><text x="3" y="15">Рыжов П</text><text x="3" y="34">Пшеничны</text></g><use href="#rb"/><text class="r" x="72" y="18.5">R:317</text><text class="r" x="72" y="37">R:308</text><text class="s" x="87" y="15.5">0</text><text class="s" x="87" y="34.5">3</text><text class="k" x="112.5" y="25">65</text></g>

<text x="1053" y="1434" font-size="7" fill="#1a1a48" text-anchor="end">1.42</text>
</svg>
